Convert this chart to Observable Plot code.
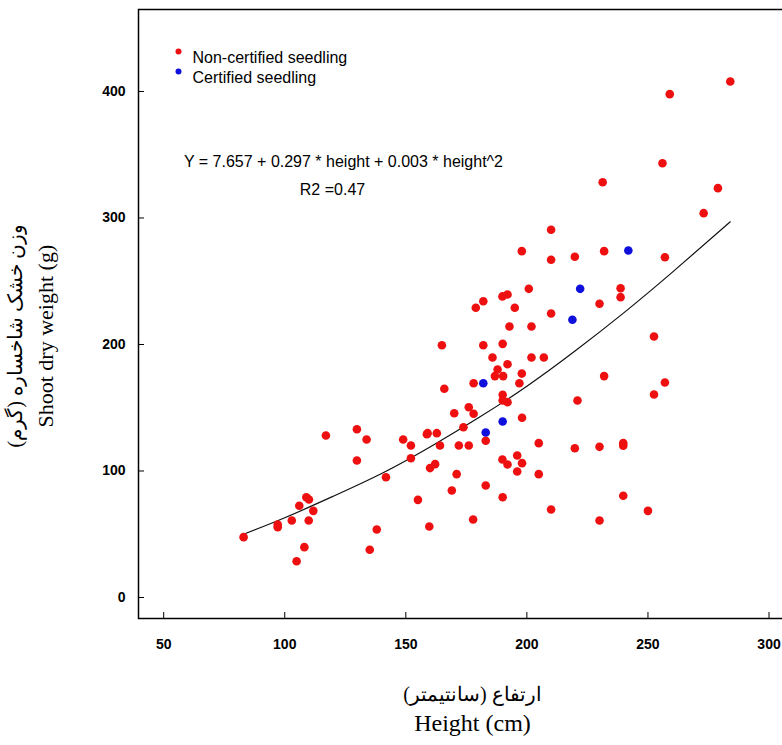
<!DOCTYPE html>
<html><head><meta charset="utf-8">
<script src="https://cdn.jsdelivr.net/npm/d3@7"></script>
<script src="https://cdn.jsdelivr.net/npm/@observablehq/plot@0.6"></script>
<style>
html,body{margin:0;padding:0;overflow:hidden;background:#fff;}
#wrap{position:relative;width:800px;height:745px;}
#wrap svg{max-width:none !important;width:800px !important;height:745px !important;display:block;}
.ytitle{position:absolute;left:0;top:0;white-space:nowrap;font-family:"Liberation Serif";color:#000;transform-origin:0 0;line-height:1.15;}
</style></head><body><div id="wrap"></div>
<script>
// Non-certified seedlings (height cm, shoot dry weight g)
const nonX = [83,97.1,97.1,102.9,109.9,106.0,108.9,110.0,111.8,108.1,104.9,117.0,129.8,133.8,129.8,141.8,138.0,135.1,148.9,152.1,152.1,158.7,160.0,155.0,159.7,
  210,197.9,210,219.8,231.9,230,238.7,238.7,200.8,189.9,192,182,178.9,195,210,192.8,201.9,164.9,182,190,185.8,201.9,207,192,187.9,186.8,190.2,197.9,196.9,178,165.9,190,190,192,176,178,170,198,173.8,159,162.8,220.9,231.9,
  164.1,171.9,176,183,204.9,219.8,230,239.8,239.8,162.1,171,189.9,192,196,198,196,204.9,169,183,190,177.8,210,230,239.8,250,
  284,259,256,231.3,278.9,273,257,252.5,257,252.5];
const nonY = [47.7,57.7,55.6,60.9,60.9,72.5,79.3,77.5,68.5,39.8,28.7,128.1,133.0,124.9,108.3,95.1,53.8,37.7,124.9,120.2,110.1,129.1,102.3,77.2,56.1,
  290.7,273.8,267,269.3,273.8,232.2,244.5,237.4,244,238,239.5,234.2,229,229,224.5,214.2,214.2,199.4,199.4,200.5,189.7,189.7,189.7,184.4,180.2,175,175,177,169.4,169.4,165,160.2,155.7,154.4,150.4,145.2,145.7,142.1,134.6,129.9,129.9,155.7,175,
  120.2,120.2,120.2,123.9,122,118,119.1,122,119.9,105.4,97.5,109.1,105.1,112.3,106.2,99.6,97.5,84.6,88.5,79.3,61.7,69.6,60.9,80.4,68.5,
  407.9,397.9,343.3,328.3,323.6,303.8,269,206.3,170,160.5];
// Certified seedlings
const certX = [222,218.8,182,190,183,241.9];
const certY = [244,219.5,169.4,139.1,130.4,274.3];
// Fitted curve
const fitX = [83,100,120,140,160,180,200,220,240,260,284];
const fitY = [50,63,80,98,119,142,167,195,225,257,297];

const xTicks = [50,100,150,200,250,300];
const yTicks = [0,100,200,300,400];
const seriesNames = ["Non-certified seedling","Certified seedling"];
const seriesColors = ["#ee1010","#1010dd"];
const equationText = "Y = 7.657 + 0.297 * height + 0.003 * height^2";
const r2Text = "R2 =0.47";
const xTitle = ["ارتفاع (سانتیمتر)","Height (cm)"];
const yTitle = ["وزن خشک شاخساره (گرم)","Shoot dry weight (g)"];

const points = [
  ...nonX.map((x,i)=>({x, y:nonY[i], s:seriesNames[0]})),
  ...certX.map((x,i)=>({x, y:certY[i], s:seriesNames[1]}))
];
const fit = fitX.map((x,i)=>({x, y:fitY[i]}));

const sans = "'Liberation Sans', Arial, sans-serif";
const serif = "'Liberation Serif', 'Times New Roman', serif";

const chart = Plot.plot({
  width: 800, height: 745,
  marginLeft: 138, marginRight: 0, marginTop: 9, marginBottom: 127,
  x: {domain: [39.6, 313]},
  y: {domain: [-16.6, 464.8]},
  color: {domain: seriesNames, range: seriesColors},
  style: {fontFamily: sans, background: "#fff", color: "#000"},
  marks: [
    Plot.frame({stroke: "#000", strokeWidth: 1.5}),
    Plot.tickX(xTicks, {x: d => d, insetTop: 603, stroke: "#000"}),
    Plot.tickY(yTicks, {y: d => d, insetRight: 656, stroke: "#000"}),
    Plot.axisX({ticks: xTicks, tickSize: 0, tickPadding: 21, fontWeight: "bold", fontSize: 14, label: null}),
    Plot.axisY({ticks: yTicks, tickSize: 0, tickPadding: 13, fontWeight: "bold", fontSize: 14, label: null}),
    Plot.line(fit, {x: "x", y: "y", stroke: "#111", strokeWidth: 1.2, curve: "natural"}),
    Plot.dot(points, {x: "x", y: "y", fill: "s", r: 4.3}),
    // legend
    Plot.dot([seriesNames[0]], {fill: d => d, frameAnchor: "top-left", dx: 40, dy: 42, r: 3}),
    Plot.dot([seriesNames[1]], {fill: d => d, frameAnchor: "top-left", dx: 40, dy: 62, r: 3}),
    Plot.text([seriesNames[0]], {text: d => d, frameAnchor: "top-left", dx: 54, dy: 42, textAnchor: "start", fontSize: 16}),
    Plot.text([seriesNames[1]], {text: d => d, frameAnchor: "top-left", dx: 54, dy: 62, textAnchor: "start", fontSize: 16}),
    // equation
    Plot.text([equationText], {text: d => d, frameAnchor: "top-left", dx: 205, dy: 146, textAnchor: "middle", fontSize: 16}),
    Plot.text([r2Text], {text: d => d, frameAnchor: "top-left", dx: 194, dy: 174, textAnchor: "middle", fontSize: 16}),
    // x axis titles
    Plot.text([xTitle[0]], {text: d => d, frameAnchor: "bottom-left", dx: 334, dy: 82, textAnchor: "middle", fontSize: 20, fontFamily: serif}),
    Plot.text([xTitle[1]], {text: d => d, frameAnchor: "bottom-left", dx: 334, dy: 112, textAnchor: "middle", fontSize: 24, fontFamily: serif})
  ]
});
const wrap = document.getElementById("wrap");
wrap.append(chart);
// y axis titles (rotated, two lines)
const centers = [15, 45];
const sizes = [20, 22];
yTitle.forEach((t, i) => {
  const d = document.createElement("div");
  d.className = "ytitle";
  d.style.fontSize = sizes[i] + "px";
  d.textContent = t;
  wrap.append(d);
  const w = d.offsetWidth, h = d.offsetHeight;
  d.style.transform = `translate(${centers[i] - h / 2}px, ${336 + w / 2}px) rotate(-90deg)`;
});
</script>
</body></html>
